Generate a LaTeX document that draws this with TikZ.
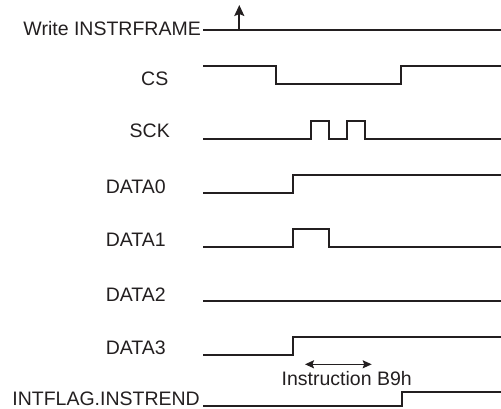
\documentclass[tikz,border=0pt]{standalone}
\usepackage{fontspec}
\setmainfont{Liberation Sans}
\usetikzlibrary{arrows.meta}
\definecolor{ink}{HTML}{231F20}
\begin{document}
\begin{tikzpicture}[x=1pt,y=-1pt,
  sig/.style={line width=1.7pt, draw=ink, line join=miter},
  lbl/.style={font=\fontsize{19.5}{22}\selectfont, text=ink, inner sep=0pt, anchor=base east},
  span/.style={line width=1.3pt, draw=ink, {Stealth[length=9pt,width=8pt,inset=1.5pt]}-{Stealth[length=9pt,width=8pt,inset=1.5pt]}},
  trig/.style={line width=1.7pt, draw=ink, -{Stealth[length=11pt,width=10pt,inset=2pt]}}
]
\useasboundingbox (0,0) rectangle (501,408);
% labels
\node[lbl] (wlab) at (201,35.5) {Write INSTRFRAME};
\node[lbl] (cslab) at (168.5,85) {CS};
\node[lbl] (scklab) at (170,137) {SCK};
\node[lbl] (d0lab) at (166,193.3) {DATA0};
\node[lbl] (d1lab) at (166,246.7) {DATA1};
\node[lbl] (d2lab) at (166,301.5) {DATA2};
\node[lbl] (d3lab) at (166,354.5) {DATA3};
\node[lbl] (iflab) at (200,405) {INTFLAG.INSTREND};
% coordinates
\coordinate (wf) at (239.3,30);
\coordinate (wtop) at (239.3,5);
\coordinate (sl) at (305,364.3);
\coordinate (sr) at (371.7,364.3);
% waveforms
\draw[sig] (203,30) -- (501,30);
\draw[trig] (wf) -- (wtop);
\draw[sig] (203,65.7) -| (276,84) -| (401,65.7) -- (501,65.7);
\draw[sig] (203,138.7) -| (310.7,120.7) -| (329.3,138.7) -| (346.7,120.7) -| (365,138.7) -- (501,138.7);
\draw[sig] (203,192.7) -| (293.3,175) -- (501,175);
\draw[sig] (203,246.7) -| (293.3,228.7) -| (329,246.7) -- (501,246.7);
\draw[sig] (203,301) -- (501,301);
\draw[sig] (203,354.7) -| (293.3,336.7) -- (501,336.7);
\draw[sig] (203,406.3) -| (401.7,391.7) -- (501,391.7);
% span
\draw[span] (sl) -- (sr);
\node[font=\fontsize{19.5}{22}\selectfont, text=ink, inner sep=0pt, anchor=base] (instr) at (346.7,385) {Instruction B9h};
\end{tikzpicture}
\end{document}
